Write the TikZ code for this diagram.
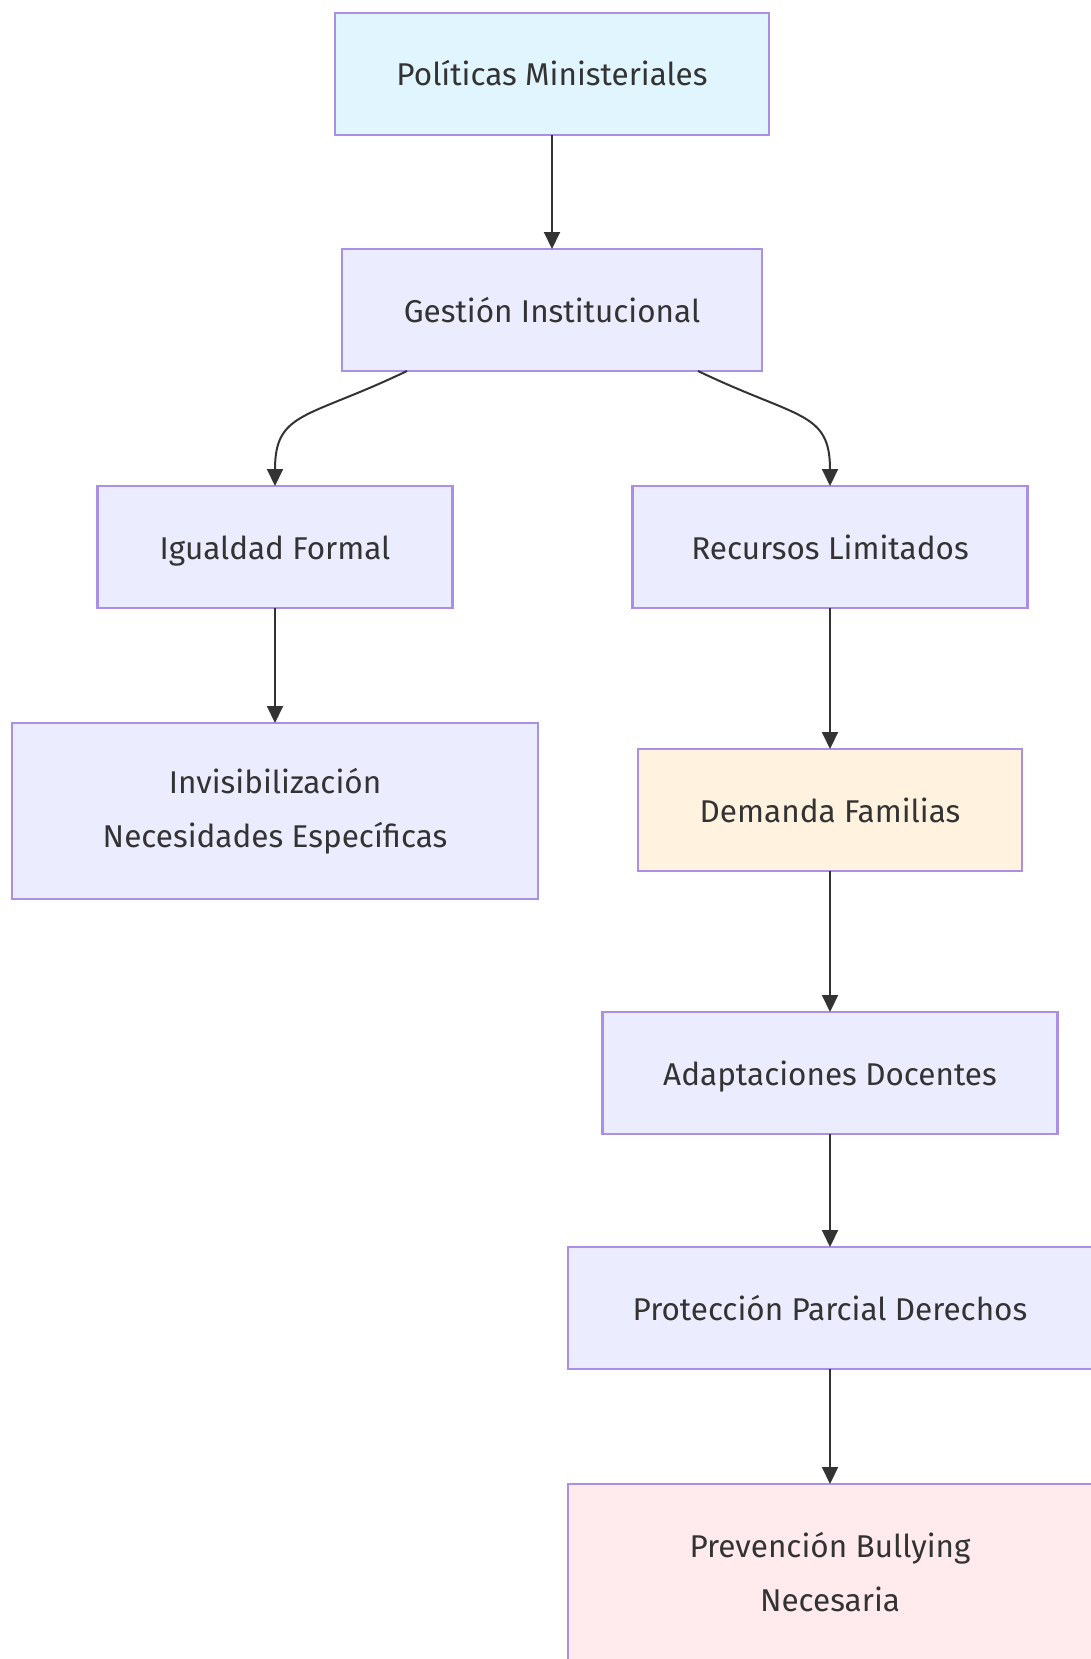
\documentclass[tikz,border=0pt]{standalone}
\usepackage{fontspec}
\setmainfont{Fira Sans}
\usetikzlibrary{arrows.meta,
                positioning}
\definecolor{nodefill}{HTML}{ECECFF}
\definecolor{nodeline}{HTML}{AA90E4}
\definecolor{topfill}{HTML}{E1F5FE}
\definecolor{warmfill}{HTML}{FFF3E0}
\definecolor{alertfill}{HTML}{FFEBEE}
\definecolor{ink}{HTML}{333333}
\tikzset{
        base/.style={draw=nodeline, line width=2.5pt, fill=nodefill, align=center,
                     text=ink, inner sep=0pt, outer sep=0pt,
                     font=\fontsize{31.5}{54}\selectfont},
        proc/.style={base, rectangle, minimum height=122pt,
                     text height=24pt, text depth=0pt},
        tall/.style={base, rectangle, minimum height=176pt},
        myarrow/.style={-{Triangle[length=17pt, width=16pt]}, line width=2pt, draw=ink},
}
\begin{document}
\begin{tikzpicture}[x=1pt, y=-1pt]
    \useasboundingbox (0,0) rectangle (1091,1659);

    \node[proc, fill=topfill, minimum width=434pt] (pm) at (552,74) {Políticas Ministeriales};
    \node[proc, minimum width=420pt, below=114pt of pm] (gi) {Gestión Institucional};

    \node[proc, minimum width=355pt] (ig) at (275,547) {Igualdad Formal};
    \node[proc, minimum width=395pt] (rl) at (830,547) {Recursos Limitados};

    \node[tall, minimum width=526pt, below=115pt of ig] (inv) {Invisibilización\\Necesidades Específicas};
    \node[proc, fill=warmfill, minimum width=384pt, below=141pt of rl] (df) {Demanda Familias};
    \node[proc, minimum width=455pt, below=141pt of df] (ad) {Adaptaciones Docentes};
    \node[proc, minimum width=524pt, below=113pt of ad] (pp) {Protección Parcial Derechos};
    \node[tall, fill=alertfill, minimum width=524pt, below=115pt of pp] (pb) {Prevención Bullying\\Necesaria};

    \draw[myarrow] (pm) -- (gi);
    \draw[myarrow] ([xshift=-145pt]gi.south) .. controls +(-100,48) and +(0,-75) .. (ig.north);
    \draw[myarrow] ([xshift=146pt]gi.south) .. controls +(100,48) and +(0,-75) .. (rl.north);
    \draw[myarrow] (ig) -- (inv);
    \draw[myarrow] (rl) -- (df);
    \draw[myarrow] (df) -- (ad);
    \draw[myarrow] (ad) -- (pp);
    \draw[myarrow] (pp) -- (pb);
\end{tikzpicture}
\end{document}
